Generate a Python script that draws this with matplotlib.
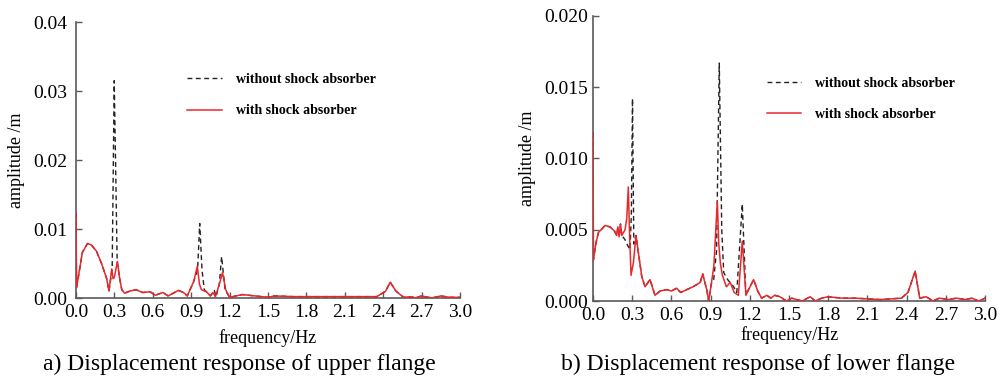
import matplotlib
matplotlib.use('Agg')
import matplotlib.pyplot as plt
from matplotlib.ticker import FormatStrFormatter

plt.rcParams['font.family'] = ['Liberation Serif', 'DejaVu Serif']

# a) upper flange
fa_with = [0.000, 0.005, 0.020, 0.050, 0.090, 0.120, 0.160, 0.200, 0.240, 0.258, 0.279, 0.290, 0.300,
           0.324, 0.340, 0.358, 0.380, 0.420, 0.470, 0.520, 0.580, 0.620, 0.680, 0.720, 0.800, 0.840,
           0.870, 0.920, 0.948, 0.965, 0.980, 1.020, 1.050, 1.070, 1.090, 1.120, 1.145, 1.170, 1.200,
           1.300, 1.400, 1.500, 1.550, 1.700, 2.000, 2.350, 2.420, 2.455, 2.500, 2.560, 2.620, 2.650,
           2.700, 2.780, 2.850, 2.920, 3.000]
aa_with = [0.0123, 0.0015, 0.0032, 0.0066, 0.0079, 0.0077, 0.0068, 0.0050, 0.0028, 0.0010, 0.0042, 0.0028, 0.0030,
           0.0053, 0.0030, 0.0012, 0.0007, 0.0010, 0.0012, 0.0008, 0.0009, 0.0004, 0.0008, 0.0003, 0.0011, 0.0008,
           0.0003, 0.0024, 0.0046, 0.0020, 0.0012, 0.0009, 0.0003, 0.0008, 0.0002, 0.0020, 0.0037, 0.0012, 0.0001,
           0.0005, 0.0003, 0.0001, 0.0003, 0.0002, 0.0002, 0.0002, 0.0010, 0.0023, 0.0010, 0.0001, 0.0002, 0.0000,
           0.0003, 0.0000, 0.0003, 0.0001, 0.0001]

fa_without = [0.000, 0.005, 0.020, 0.050, 0.090, 0.120, 0.160, 0.200, 0.240, 0.258, 0.283, 0.299, 0.322,
              0.340, 0.358, 0.380, 0.420, 0.470, 0.520, 0.580, 0.620, 0.680, 0.720, 0.800, 0.840, 0.870,
              0.920, 0.950, 0.967, 0.985, 1.003, 1.020, 1.050, 1.070, 1.081, 1.095, 1.120, 1.138, 1.165,
              1.200, 1.300, 1.400, 1.500, 1.550, 1.700, 2.000, 2.350, 2.420, 2.455, 2.500, 2.560, 2.620,
              2.650, 2.700, 2.780, 2.850, 2.920, 3.000]
aa_without = [0.0123, 0.0015, 0.0032, 0.0066, 0.0079, 0.0077, 0.0068, 0.0050, 0.0028, 0.0010, 0.0042, 0.0315, 0.0053,
              0.0030, 0.0012, 0.0007, 0.0010, 0.0012, 0.0008, 0.0009, 0.0004, 0.0008, 0.0003, 0.0011, 0.0008, 0.0003,
              0.0024, 0.0040, 0.0108, 0.0040, 0.0012, 0.0009, 0.0003, 0.0008, 0.0011, 0.0002, 0.0020, 0.0060, 0.0012,
              0.0001, 0.0005, 0.0003, 0.0001, 0.0003, 0.0002, 0.0002, 0.0002, 0.0010, 0.0023, 0.0010, 0.0001, 0.0002,
              0.0000, 0.0003, 0.0000, 0.0003, 0.0001, 0.0001]

# b) lower flange
fb_with = [0.000, 0.003, 0.023, 0.041, 0.092, 0.130, 0.165, 0.181, 0.190, 0.200, 0.210, 0.220, 0.245,
           0.258, 0.270, 0.280, 0.291, 0.309, 0.329, 0.347, 0.373, 0.398, 0.436, 0.474, 0.513, 0.564,
           0.600, 0.640, 0.670, 0.766, 0.820, 0.839, 0.870, 0.885, 0.905, 0.925, 0.951, 0.962, 0.975,
           0.990, 1.020, 1.050, 1.080, 1.112, 1.142, 1.170, 1.190, 1.229, 1.260, 1.290, 1.330, 1.360,
           1.390, 1.430, 1.480, 1.520, 1.600, 1.662, 1.700, 1.750, 1.800, 1.900, 2.000, 2.200, 2.360,
           2.410, 2.465, 2.500, 2.550, 2.600, 2.650, 2.720, 2.780, 2.850, 2.900, 2.950, 3.000]
ab_with = [0.0118, 0.0029, 0.0041, 0.0048, 0.0053, 0.0052, 0.0049, 0.0046, 0.0052, 0.0045, 0.0054, 0.0046, 0.0050,
           0.0058, 0.0080, 0.0045, 0.0018, 0.0027, 0.0046, 0.0034, 0.0017, 0.0010, 0.0015, 0.0004, 0.0007, 0.0008,
           0.0007, 0.0009, 0.0006, 0.0010, 0.0013, 0.0019, 0.0008, 0.0000, 0.0012, 0.0025, 0.0070, 0.0040, 0.0026,
           0.0018, 0.0010, 0.0013, 0.0006, 0.0004, 0.0042, 0.0004, 0.0008, 0.0015, 0.0007, 0.0002, 0.0004, 0.0002,
           0.0004, 0.0003, 0.0000, 0.0002, 0.0000, 0.0003, 0.0000, 0.0002, 0.0003, 0.0002, 0.0002, 0.0001, 0.0002,
           0.0006, 0.0021, 0.0002, 0.0003, 0.0000, 0.0002, 0.0001, 0.0002, 0.0001, 0.0002, 0.0000, 0.0002]

fb_without = [0.000, 0.003, 0.023, 0.041, 0.092, 0.130, 0.165, 0.181, 0.190, 0.200, 0.210, 0.220, 0.245,
              0.265, 0.283, 0.293, 0.302, 0.312, 0.329, 0.347, 0.373, 0.398, 0.436, 0.474, 0.513, 0.564,
              0.600, 0.640, 0.670, 0.766, 0.820, 0.839, 0.870, 0.885, 0.905, 0.923, 0.945, 0.966, 0.985,
              1.000, 1.030, 1.076, 1.100, 1.142, 1.170, 1.190, 1.229, 1.260, 1.290, 1.330, 1.360, 1.390,
              1.430, 1.480, 1.520, 1.600, 1.662, 1.700, 1.750, 1.800, 1.900, 2.000, 2.200, 2.360, 2.410,
              2.465, 2.500, 2.550, 2.600, 2.650, 2.720, 2.780, 2.850, 2.900, 2.950, 3.000]
ab_without = [0.0118, 0.0029, 0.0041, 0.0048, 0.0053, 0.0052, 0.0049, 0.0046, 0.0052, 0.0045, 0.0054, 0.0046, 0.0043,
              0.0039, 0.0036, 0.0060, 0.0142, 0.0040, 0.0046, 0.0034, 0.0017, 0.0010, 0.0015, 0.0004, 0.0007, 0.0008,
              0.0007, 0.0009, 0.0006, 0.0010, 0.0013, 0.0019, 0.0008, 0.0000, 0.0012, 0.0015, 0.0035, 0.0167, 0.0050,
              0.0020, 0.0015, 0.0010, 0.0006, 0.0068, 0.0004, 0.0008, 0.0015, 0.0007, 0.0002, 0.0004, 0.0002, 0.0004,
              0.0003, 0.0000, 0.0002, 0.0000, 0.0003, 0.0000, 0.0002, 0.0003, 0.0002, 0.0002, 0.0001, 0.0002, 0.0006,
              0.0021, 0.0002, 0.0003, 0.0000, 0.0002, 0.0001, 0.0002, 0.0001, 0.0002, 0.0000, 0.0002]

xticks = [0.0, 0.3, 0.6, 0.9, 1.2, 1.5, 1.8, 2.1, 2.4, 2.7, 3.0]
yticks_a = [0.00, 0.01, 0.02, 0.03, 0.04]
yticks_b = [0.000, 0.005, 0.010, 0.015, 0.020]
captions = ['a) Displacement response of upper flange', 'b) Displacement response of lower flange']

fig = plt.figure(figsize=(10.06, 3.78), dpi=100)
ax1 = fig.add_axes([0.0755, 0.2116, 0.3817, 0.730])
ax2 = fig.add_axes([0.5895, 0.2037, 0.3897, 0.754])

# (axes, dashed x, dashed y, solid x, solid y, yticks, fmt, legend pos, ytick pad, xlabel pad)
panels = [(ax1, fa_without, aa_without, fa_with, aa_with, yticks_a, '%.2f', (0.186, 0.806), 6, 6),
          (ax2, fb_without, ab_without, fb_with, ab_with, yticks_b, '%.3f', (0.762, 0.796), 3.5, 1.5)]

for ax, fx0, y0, fx1, y1, yt, fmt, lpos, ypad, xlpad in panels:
    ax.plot(fx0, y0, color='#222222', lw=1.0, ls=(0, (3.5, 2.5)), zorder=3,
            label='without shock absorber')
    ax.plot(fx1, y1, color='#e8282c', lw=1.1, zorder=4, label='with shock absorber')
    ax.set_xlim(0, 3.0)
    ax.set_ylim(yt[0], yt[-1])
    ax.set_xticks(xticks)
    ax.set_yticks(yt)
    ax.xaxis.set_major_formatter(FormatStrFormatter('%.1f'))
    ax.yaxis.set_major_formatter(FormatStrFormatter(fmt))
    for s in ['top', 'right']:
        ax.spines[s].set_visible(False)
    for s in ['left', 'bottom']:
        ax.spines[s].set_color('#5a5a5a')
        ax.spines[s].set_linewidth(1.2)
    ax.tick_params(direction='in', length=4, width=1, color='#5a5a5a', labelsize=14)
    ax.tick_params(axis='x', pad=4)
    ax.tick_params(axis='y', pad=ypad)
    ax.set_xlabel('frequency/Hz', fontsize=13, labelpad=xlpad)
    ax.set_ylabel('amplitude /m', fontsize=13, labelpad=6)
    ax.legend(loc='upper left', bbox_to_anchor=lpos, bbox_transform=fig.transFigure,
              frameon=False, borderpad=0, borderaxespad=0, handlelength=2.5, handletextpad=1.0,
              labelspacing=1.3, prop={'family': 'Liberation Serif', 'weight': 'bold', 'size': 10})

fig.text(0.238, 0.036, captions[0], ha='center', va='center', fontsize=17)
fig.text(0.754, 0.036, captions[1], ha='center', va='center', fontsize=17)

fig.savefig('out.png', dpi=100)
